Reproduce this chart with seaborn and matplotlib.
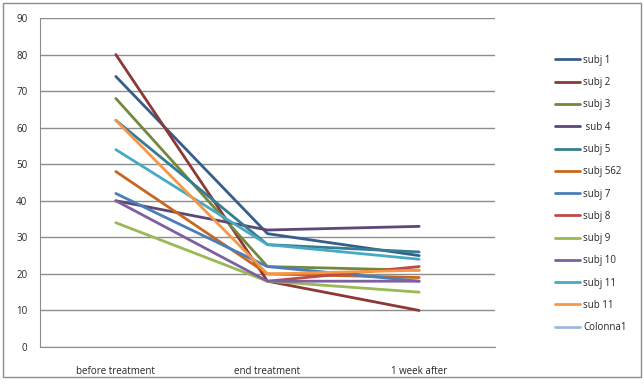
import numpy as np
import pandas as pd
import seaborn as sns
import matplotlib.pyplot as plt
from matplotlib.lines import Line2D
from matplotlib.patches import Rectangle

phases = ["before treatment", "end treatment", "1 week after"]
subjects = ["subj 1", "subj 2", "subj 3", " sub 4", "subj 5", "subj 562",
            "subj 7", "subj 8", "subj 9", "subj 10", "subj 11", "sub 11"]
before = [74, 80, 68, 40, 62, 48, 42, np.nan, 34, 40, 54, 62]
end = [31, 18, 22, 32, 28, 20, 22, 18, 18, 18, 28, 20]
week = [25, 10, 21, 33, 26, 19, 18, 22, 15, 18, 24, 21]
colors = ["#385D8A", "#8C3836", "#71893F", "#5C4776", "#357D91", "#C8681E",
          "#4A7EBB", "#BE4B48", "#98B954", "#7D60A0", "#46AAC5", "#F79646"]
empty_label = "Colonna1"
empty_color = "#A5B8D8"

rows = []
for s, b, e, w in zip(subjects, before, end, week):
    for p, v in zip(phases, [b, e, w]):
        rows.append({"subject": s, "phase": p, "value": v})
df = pd.DataFrame(rows)

sns.set_style("white")
plt.rcParams["font.family"] = ["Open Sans", "DejaVu Sans"]

fig = plt.figure(figsize=(6.44, 3.88), dpi=100)
ax = fig.add_axes([40 / 644, 1 - 347 / 388, 455 / 644, 329 / 388])

sns.lineplot(data=df, x="phase", y="value", hue="subject", hue_order=subjects,
             palette=colors, linewidth=2, legend=False, ax=ax, sort=False)

ax.set_xlim(-0.5, 2.5)
ax.set_ylim(0, 90)
ax.set_yticks(range(0, 91, 10))
ax.yaxis.grid(True, color="#8C8C8C", linewidth=1)
ax.set_axisbelow(True)
ax.set_xlabel("")
ax.set_ylabel("")
for side in ["top", "right"]:
    ax.spines[side].set_visible(False)
for side in ["left", "bottom"]:
    ax.spines[side].set_color("#8C8C8C")
ax.set_xticks([0, 1, 2])
ax.set_xticklabels(phases)
ax.set_xticks([-0.5, 0.5, 1.5, 2.5], minor=True)
ax.tick_params(axis="x", which="major", length=0, pad=14, labelsize=7)
ax.tick_params(axis="x", which="minor", length=4, color="#8C8C8C", direction="out")
ax.tick_params(axis="y", length=4, color="#8C8C8C", direction="out", labelsize=7, pad=5)

handles = [Line2D([], [], color=c, lw=2) for c in colors + [empty_color]]
labels = subjects + [empty_label]
fig.legend(handles, labels, loc="center left", bbox_to_anchor=(546 / 644, 0.5),
           frameon=False, fontsize=7, handlelength=2.6, labelspacing=1.16,
           handletextpad=0.3)

fig.patches.append(Rectangle((3 / 644, 1 - 377 / 388), 638 / 644, 374 / 388,
                             transform=fig.transFigure, fill=False,
                             edgecolor="#8C8C8C", linewidth=1))

fig.savefig("out.png", dpi=100)
